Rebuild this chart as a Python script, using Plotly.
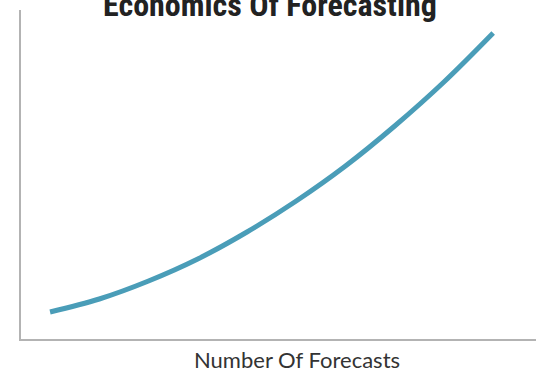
import plotly.graph_objects as go

# Cost of forecasting as the number of forecasts grows
forecasts = [1, 2, 3, 4, 5, 6, 7, 8, 9, 10]
cost = [27, 40, 58, 80, 107, 138, 173, 213, 257, 306]

title_text = "Economics Of Forecasting"
x_title = "Number Of Forecasts"

W, H = 536, 372
ml, mr, mt, mb = 21, 0, 10, 33

fig = go.Figure()
fig.add_trace(go.Scatter(
    x=forecasts, y=cost, mode="lines",
    line=dict(color="#4a9db8", width=5, shape="spline"),
    hoverinfo="skip", showlegend=False,
))

axis_common = dict(showgrid=False, zeroline=False, showticklabels=False,
                   ticks="", showline=True, linecolor="#b3b3b3", linewidth=2)

fig.update_layout(
    width=W, height=H,
    margin=dict(l=ml, r=mr, t=mt, b=mb),
    paper_bgcolor="white", plot_bgcolor="white",
    xaxis=dict(range=[0.41, 10.87], **axis_common),
    yaxis=dict(range=[0, 329], **axis_common),
    annotations=[
        dict(text=f"<b>{title_text}</b>", x=(270 - ml) / (W - ml - mr), y=1,
             xref="paper", yref="paper", xanchor="center", yanchor="bottom",
             yshift=-16, showarrow=False,
             font=dict(family="Roboto Condensed, Roboto, sans-serif", size=32, color="#222222")),
        dict(text=x_title, x=(297 - ml) / (W - ml - mr), y=0,
             xref="paper", yref="paper", xanchor="center", yanchor="middle",
             yshift=-(359 - (H - mb)), showarrow=False,
             font=dict(family="Lato, sans-serif", size=22, color="#333333")),
    ],
)

fig.write_html("out.html")
